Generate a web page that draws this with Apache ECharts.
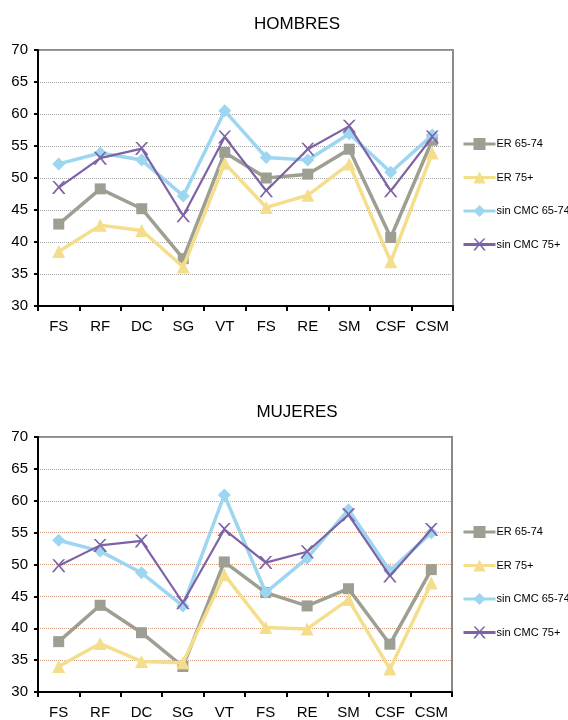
<!DOCTYPE html>
<html><head><meta charset="utf-8">
<script src="https://cdn.jsdelivr.net/npm/echarts@6/dist/echarts.min.js"></script>
<style>html,body{margin:0;padding:0;background:#fff}#c{width:568px;height:720px}</style>
</head><body><div id="c"></div>
<script>
var categories = ['FS','RF','DC','SG','VT','FS','RE','SM','CSF','CSM'];
var yTicks = [30,35,40,45,50,55,60,65,70];
var seriesNames = ['ER 65-74','ER 75+','sin CMC 65-74','sin CMC 75+'];
// HOMBRES
var hER6574   = [42.8,48.3,45.2,37.4,54.0,50.0,50.6,54.5,40.7,55.9];
var hER75     = [38.5,42.6,41.8,36.1,52.3,45.4,47.3,52.2,36.9,53.9];
var hSin6574  = [52.2,53.9,52.8,47.2,60.5,53.2,52.8,56.9,50.9,56.7];
var hSin75    = [48.5,53.1,54.6,44.1,56.4,48.0,54.5,58.1,48.0,56.4];
// MUJERES
var mER6574   = [37.9,43.6,39.3,34.0,50.4,45.6,43.5,46.2,37.5,49.2];
var mER75     = [34.0,37.6,34.8,34.6,48.4,40.1,39.9,44.5,33.6,47.1];
var mSin6574  = [53.8,52.1,48.7,43.5,60.9,45.6,51.0,58.6,49.0,55.0];
var mSin75    = [49.8,53.0,53.7,44.0,55.5,50.3,52.0,57.8,48.2,55.5];

var colors = ['#9c9f91','#f4de8c','#9dd6f0','#7d62a6'];
var symbols = ['rect','triangle','diamond','path://M0,0 L1.6,0 L5,3.6 L8.4,0 L10,0 L5.8,4.6 L10,9.6 L10,10 L8.6,10 L5,5.6 L1.4,10 L0,10 L0,9.6 L4.2,4.6 Z'];
var symSizes = [11,13,13,13];
var widths = [3.5,3.5,3.5,2.2];
var FONT = '"Liberation Sans", Arial, sans-serif';

function mkSeries(data, idx, g){
  return {
    name: seriesNames[idx], type:'line', data:data, xAxisIndex:g, yAxisIndex:g,
    symbol: symbols[idx], symbolSize: symSizes[idx],
    lineStyle:{color:colors[idx], width:widths[idx]},
    itemStyle:{color:colors[idx]},
    animation:false, z: 2+idx
  };
}
function mkX(g){
  return {type:'category', gridIndex:g, data:categories, boundaryGap:true,
    axisLine:{lineStyle:{color:'#000',width:2}},
    axisTick:{show:true, length:5, interval:0, lineStyle:{color:'#000',width:2}},
    axisLabel:{color:'#000', fontFamily:FONT, fontSize:15, margin:13, interval:0}};
}
function mkY(g, gridColor){
  return {type:'value', gridIndex:g, min:yTicks[0], max:yTicks[yTicks.length-1], interval:5,
    axisLine:{show:true, lineStyle:{color:'#000',width:2}},
    axisTick:{show:true, length:4, lineStyle:{color:'#000',width:2}},
    axisLabel:{color:'#000', fontFamily:FONT, fontSize:15, margin:10},
    splitLine:{show:true, lineStyle:{color:gridColor, type:'dotted', width:1}}};
}
function mkLegend(top){
  return {orient:'vertical', left:457, top:top, itemWidth:32, itemHeight:15, itemGap:19.5,
    data:seriesNames, selectedMode:false,
    lineStyle:{width:3},
    textStyle:{fontFamily:FONT, fontSize:11, color:'#000', padding:[0,0,0,-4], lineHeight:14}};
}
var chart = echarts.init(document.getElementById('c'), null, {renderer:'canvas'});
chart.setOption({
  backgroundColor:'#fff',
  animation:false,
  title:[
    {text:'HOMBRES', left:292, top:11, textAlign:'center', textStyle:{fontFamily:FONT, fontSize:17, fontWeight:'normal', color:'#000'}},
    {text:'MUJERES', left:292, top:399, textAlign:'center', textStyle:{fontFamily:FONT, fontSize:17, fontWeight:'normal', color:'#000'}}
  ],
  grid:[
    {left:38, top:50, width:415, height:256, show:true, borderColor:'#8a8a8a', borderWidth:2, backgroundColor:'#fff'},
    {left:38, top:437, width:414, height:256, show:true, borderColor:'#8a8a8a', borderWidth:2, backgroundColor:'#fff'}
  ],
  legend:[mkLegend(132), mkLegend(520)],
  xAxis:[mkX(0), mkX(1)],
  yAxis:[mkY(0,'#a8a8a8'), mkY(1,'#d39a82')],
  series:[
    mkSeries(hER6574,0,0), mkSeries(hER75,1,0), mkSeries(hSin6574,2,0), mkSeries(hSin75,3,0),
    mkSeries(mER6574,0,1), mkSeries(mER75,1,1), mkSeries(mSin6574,2,1), mkSeries(mSin75,3,1)
  ]
});
</script></body></html>
